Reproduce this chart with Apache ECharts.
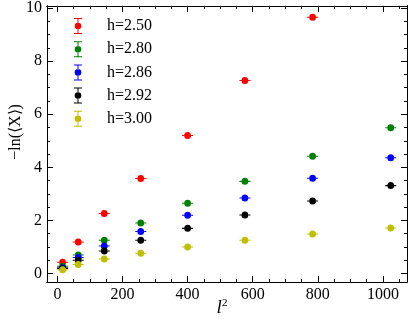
<!DOCTYPE html>
<html>
<head>
<meta charset="utf-8">
<script src="https://cdn.jsdelivr.net/npm/echarts@6/dist/echarts.min.js"></script>
<style>
  html, body { margin: 0; padding: 0; background: #fff; }
  #chart { width: 415px; height: 322px; }
</style>
</head>
<body>
<div id="chart"></div>
<script>
// l^2 values
const xVals = [16, 64, 144, 256, 400, 576, 784, 1024];
// -ln(<X>) for each h
const h250 = [0.42, 1.19, 2.26, 3.58, 5.2, 7.27, 9.65, null];
const h280 = [0.27, 0.70, 1.25, 1.90, 2.65, 3.47, 4.42, 5.49];
const h286 = [0.22, 0.60, 1.04, 1.58, 2.19, 2.84, 3.59, 4.36];
const h292 = [0.19, 0.50, 0.85, 1.25, 1.70, 2.20, 2.73, 3.31];
const h300 = [0.14, 0.34, 0.55, 0.76, 1.00, 1.25, 1.49, 1.71];
const seriesNames = ["h=2.50", "h=2.80", "h=2.86", "h=2.92", "h=3.00"];
const seriesData = [h250, h280, h286, h292, h300];
const colors = ["#ff0000", "#008000", "#0000ff", "#000000", "#bfbf00"];

const xMajor = [0, 200, 400, 600, 800, 1000];
const xMinor = [50, 100, 150, 250, 300, 350, 450, 500, 550, 650, 700, 750, 850, 900, 950, 1050];
const yMajor = [0, 2, 4, 6, 8, 10];
const yMinor = [0.5, 1, 1.5, 2.5, 3, 3.5, 4.5, 5, 5.5, 6.5, 7, 7.5, 8.5, 9, 9.5];

const font = "Liberation Serif";
const X_MIN = -32, X_MAX = 1074, Y_MIN = -0.32, Y_MAX = 10.08;

// point with small horizontal whiskers
const pointSymbol = "path://M0,3H2.2V4H0Z M8.8,3H11V4H8.8Z M2.1,3.5A3.4,3.4 0 1 0 8.9,3.5A3.4,3.4 0 1 0 2.1,3.5Z";
// legend icon: vertical error bar with dot
const legendIcon = "path://M0,0H8V1H0Z M3.5,1H4.5V5H3.5Z M0,15H8V16H0Z M3.5,11H4.5V15H3.5Z M0.7,8A3.3,3.3 0 1 0 7.3,8A3.3,3.3 0 1 0 0.7,8Z";

function makeAxis(dim, position, values, len, labels) {
  const a = {
    type: "value",
    position: position,
    min: dim === "x" ? X_MIN : Y_MIN,
    max: dim === "x" ? X_MAX : Y_MAX,
    axisLine: { show: true, onZero: false, lineStyle: { color: "#000", width: 1 } },
    axisTick: { show: true, inside: true, length: len, customValues: values, lineStyle: { color: "#000", width: 1 } },
    axisLabel: labels
      ? { show: true, customValues: values, formatter: (v) => String(v), color: "#000", fontFamily: font, fontSize: 16, margin: 5 }
      : { show: false },
    splitLine: { show: false },
  };
  return a;
}

const chart = echarts.init(document.getElementById("chart"));

const option = {
  backgroundColor: "#fff",
  animation: false,
  grid: { left: 47, right: 8, top: 5, bottom: 40 },
  xAxis: [
    makeAxis("x", "bottom", xMajor, 6, true),
    makeAxis("x", "bottom", xMinor, 3, false),
    makeAxis("x", "top", xMajor, 6, false),
    makeAxis("x", "top", xMinor, 3, false),
  ],
  yAxis: [
    makeAxis("y", "left", yMajor, 6, true),
    makeAxis("y", "left", yMinor, 3, false),
    makeAxis("y", "right", yMajor, 6, false),
    makeAxis("y", "right", yMinor, 3, false),
  ],
  legend: {
    orient: "vertical",
    left: 69,
    top: 13,
    itemWidth: 8,
    itemHeight: 16,
    itemGap: 7.2,
    icon: legendIcon,
    textStyle: { fontFamily: font, fontSize: 16, color: "#000", padding: [0, 0, 0, 20] },
    data: seriesNames,
  },
  graphic: [
    {
      type: "text",
      x: 16,
      y: 132,
      rotation: Math.PI / 2,
      style: { text: "\u2212ln(\u27E8X\u27E9)", fontFamily: font, fontSize: 16, fill: "#000", align: "center", verticalAlign: "middle" },
    },
    {
      type: "text",
      x: 222,
      y: 308,
      style: {
        text: "{i|l}{s|2}",
        align: "center",
        verticalAlign: "middle",
        rich: {
          i: { fontFamily: font, fontStyle: "italic", fontSize: 19, fill: "#000" },
          s: { fontFamily: font, fontSize: 11, fill: "#000", padding: [0, 0, 9, 0] },
        },
      },
    },
  ],
  series: seriesNames.map((name, i) => ({
    name: name,
    type: "scatter",
    xAxisIndex: 0,
    yAxisIndex: 0,
    symbol: pointSymbol,
    symbolSize: [11, 7],
    itemStyle: { color: colors[i], opacity: 1 },
    data: xVals.map((x, j) => [x, seriesData[i][j]]).filter((d) => d[1] != null),
  })),
};

chart.setOption(option);
</script>
</body>
</html>
